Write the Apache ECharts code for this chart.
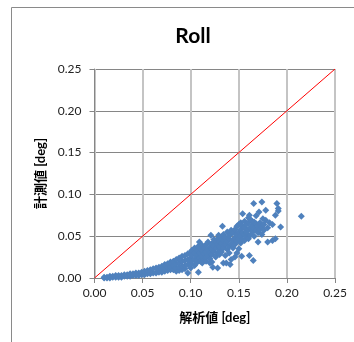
<!DOCTYPE html>
<html>
<head>
<meta charset="utf-8">
<script src="https://cdn.jsdelivr.net/npm/echarts@6/dist/echarts.min.js"></script>
<style>
html,body{margin:0;padding:0;background:#fff;}
#c{width:354px;height:342px;}
</style>
</head>
<body>
<div id="c"></div>
<script>
// ---- data ----
const titleText = 'Roll';
const xName = '解析値 [deg]';
const yName = '計測値 [deg]';
const axisTicks = [0, 0.05, 0.10, 0.15, 0.20, 0.25];
const diagonal = [[0, 0], [0.25, 0.25]];

// dense low band (x 0.01 - 0.10)
const bandPoints = [
  [0.010,0.000],[0.010,0.001],[0.013,0.000],[0.013,0.001],[0.016,0.000],[0.016,0.002],
  [0.019,0.001],[0.019,0.002],[0.022,0.001],[0.022,0.003],[0.025,0.001],[0.025,0.003],
  [0.028,0.001],[0.028,0.003],[0.031,0.002],[0.031,0.004],[0.034,0.002],[0.034,0.004],
  [0.037,0.002],[0.037,0.005],[0.040,0.003],[0.040,0.005],[0.043,0.003],[0.043,0.006],
  [0.046,0.003],[0.046,0.006],[0.049,0.004],[0.049,0.007],[0.052,0.004],[0.052,0.008],
  [0.055,0.005],[0.055,0.009],[0.058,0.005],[0.058,0.010],[0.061,0.006],[0.061,0.011],
  [0.064,0.006],[0.064,0.012],[0.067,0.007],[0.067,0.010],[0.067,0.013],
  [0.070,0.007],[0.070,0.011],[0.070,0.014],[0.073,0.008],[0.073,0.012],[0.073,0.016],
  [0.076,0.009],[0.076,0.013],[0.076,0.017],[0.079,0.010],[0.079,0.014],[0.079,0.019],
  [0.082,0.010],[0.082,0.015],[0.082,0.020],[0.085,0.008],[0.085,0.012],[0.085,0.017],[0.085,0.022],
  [0.088,0.009],[0.088,0.013],[0.088,0.018],[0.088,0.024],[0.091,0.010],[0.091,0.014],[0.091,0.020],[0.091,0.026],
  [0.094,0.011],[0.094,0.015],[0.094,0.021],[0.094,0.027],[0.097,0.006],[0.097,0.016],[0.097,0.022],[0.097,0.029],
  [0.100,0.012],[0.100,0.017],[0.100,0.024],[0.100,0.030]
];

// middle cloud (x 0.10 - 0.15)
const midPoints = [
  [0.101,0.020],[0.101,0.027],[0.101,0.033],[0.104,0.015],[0.104,0.022],[0.104,0.030],[0.104,0.036],
  [0.106,0.018],[0.106,0.025],[0.107,0.021],[0.107,0.028],[0.107,0.033],[0.108,0.007],[0.108,0.038],
  [0.109,0.024],[0.109,0.043],[0.110,0.020],[0.110,0.030],[0.110,0.035],
  [0.112,0.018],[0.112,0.026],[0.112,0.033],[0.112,0.039],[0.114,0.022],[0.114,0.029],[0.114,0.036],
  [0.116,0.020],[0.116,0.025],[0.116,0.031],[0.116,0.040],[0.118,0.027],[0.118,0.034],[0.118,0.043],
  [0.120,0.018],[0.120,0.023],[0.120,0.030],[0.120,0.037],[0.121,0.051],
  [0.122,0.019],[0.122,0.028],[0.122,0.035],[0.122,0.041],[0.123,0.013],
  [0.124,0.032],[0.124,0.038],[0.124,0.046],[0.126,0.025],[0.126,0.036],[0.126,0.043],
  [0.128,0.012],[0.128,0.030],[0.128,0.040],[0.128,0.047],[0.129,0.051],
  [0.130,0.028],[0.130,0.034],[0.130,0.038],[0.130,0.044],[0.132,0.031],[0.132,0.041],[0.132,0.049],[0.133,0.062],
  [0.134,0.018],[0.134,0.036],[0.134,0.045],[0.134,0.052],[0.136,0.027],[0.136,0.040],[0.136,0.048],
  [0.137,0.018],[0.138,0.034],[0.138,0.044],[0.138,0.055],
  [0.140,0.030],[0.140,0.038],[0.140,0.047],[0.140,0.051],[0.141,0.016],
  [0.142,0.022],[0.142,0.041],[0.142,0.053],[0.142,0.057],[0.144,0.036],[0.144,0.045],[0.144,0.054],
  [0.146,0.025],[0.146,0.040],[0.146,0.048],[0.146,0.058],[0.148,0.030],[0.148,0.044],[0.148,0.052],[0.148,0.062],
  [0.150,0.035],[0.150,0.047],[0.150,0.055],[0.150,0.064]
];

// upper cloud (x 0.15 - 0.22)
const highPoints = [
  [0.152,0.042],[0.152,0.050],[0.152,0.058],[0.152,0.066],[0.153,0.026],
  [0.154,0.046],[0.154,0.054],[0.154,0.062],[0.154,0.077],
  [0.156,0.045],[0.156,0.052],[0.156,0.060],[0.156,0.068],[0.158,0.049],[0.158,0.053],[0.158,0.056],[0.158,0.064],
  [0.160,0.047],[0.160,0.058],[0.160,0.066],[0.160,0.072],[0.161,0.075],[0.161,0.027],
  [0.162,0.051],[0.162,0.060],[0.162,0.070],[0.164,0.055],[0.164,0.063],[0.164,0.068],[0.165,0.021],
  [0.1655,0.089],[0.166,0.050],[0.166,0.059],[0.166,0.067],[0.168,0.057],[0.168,0.065],[0.168,0.0745],
  [0.170,0.043],[0.170,0.054],[0.170,0.062],[0.171,0.079],[0.172,0.058],[0.172,0.066],
  [0.174,0.052],[0.174,0.061],[0.174,0.091],[0.175,0.071],[0.176,0.057],[0.176,0.064],
  [0.178,0.069],[0.178,0.081],[0.180,0.043],[0.180,0.060],[0.182,0.066],
  [0.185,0.045],[0.185,0.064],[0.188,0.047],[0.188,0.075],[0.1896,0.089],
  [0.191,0.080],[0.191,0.083],[0.1935,0.061],[0.215,0.074]
];

const chart = echarts.init(document.getElementById('c'), null, {renderer: 'canvas'});
const labelFont = 'Lato, "Noto Sans CJK JP", sans-serif';

function axisCommon(isX) {
  return {
    type: 'value', min: 0, max: 0.25, interval: 0.05,
    axisLine: {show: true, lineStyle: {color: '#868686', width: 1}},
    axisTick: {show: true, inside: false, length: 5, lineStyle: {color: '#868686'}},
    axisLabel: {
      color: '#222', fontSize: 12, fontFamily: labelFont,
      margin: isX ? 9 : 13,
      formatter: v => {
        const hit = axisTicks.find(t => Math.abs(t - v) < 1e-9);
        return (hit !== undefined ? hit : v).toFixed(2);
      }
    },
    splitLine: {show: true, lineStyle: {color: isX ? '#c4c4c4' : '#868686', width: isX ? 2 : 1}},
    nameLocation: 'middle',
    nameTextStyle: {color: '#000', fontSize: 13, fontWeight: 'bold', fontFamily: labelFont}
  };
}

chart.setOption({
  animation: false,
  backgroundColor: '#fff',
  title: {
    text: titleText, left: 188, top: 21, textAlign: 'center',
    textStyle: {fontSize: 21, fontWeight: 'bold', color: '#000', fontFamily: labelFont}
  },
  graphic: [{
    type: 'rect', shape: {x: 11.5, y: 7.5, width: 400, height: 400},
    style: {fill: 'none', stroke: '#8a8a8a', lineWidth: 1}, silent: true, z: -1
  }],
  grid: {left: 94.5, top: 69, right: 19, bottom: 64, containLabel: false},
  xAxis: Object.assign(axisCommon(true), {name: xName, nameGap: 33}),
  yAxis: Object.assign(axisCommon(false), {name: yName, nameGap: 46}),
  series: [
    {
      type: 'scatter', symbol: 'diamond', symbolSize: 7,
      itemStyle: {color: '#4f81bd', opacity: 1},
      data: bandPoints.concat(midPoints, highPoints), z: 3
    },
    {
      type: 'line', data: diagonal, symbol: 'none',
      lineStyle: {color: '#ff0000', width: 1}, z: 4
    }
  ]
});
</script>
</body>
</html>
